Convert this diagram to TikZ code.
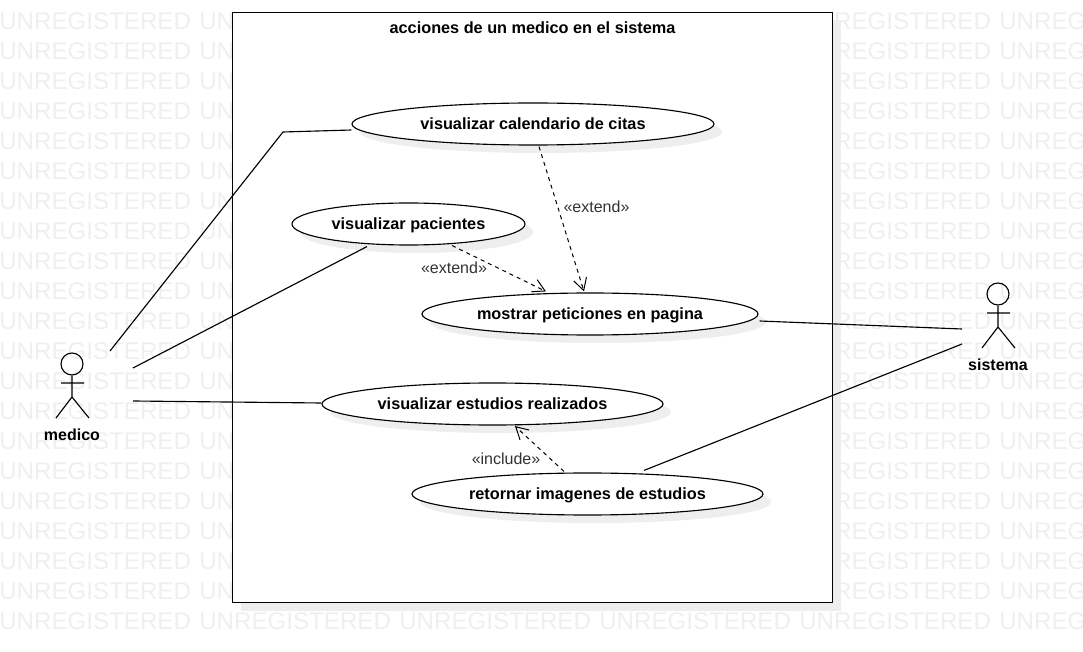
\documentclass[tikz,border=0pt]{standalone}
\usepackage{fontspec}
\setmainfont{Liberation Sans}
\usetikzlibrary{shapes.geometric,shadows,arrows.meta,calc}
\definecolor{wm}{HTML}{EFEFEF}
\definecolor{shade}{HTML}{EEEEEE}
\definecolor{lbl}{HTML}{333333}
\tikzset{
  px/.style={x=0.75pt,y=-0.75pt},
  boxshadow/.style={general shadow={fill=shade,shadow xshift=6pt,shadow yshift=-6pt}},
  usecase/.style={ellipse,draw=black,fill=white,line width=0.85pt,inner sep=0pt,
    minimum height=31.5pt,font=\fontsize{12.2}{14}\selectfont\bfseries,text=black,
    text height=8pt,text depth=0pt,boxshadow},
  assoc/.style={draw=black,line width=0.85pt},
  dep/.style={draw=black,line width=0.75pt,dash pattern=on 3pt off 3pt,
    -{Straight Barb[length=9pt,width=10pt,line width=0.75pt]}},
  deplabel/.style={text=lbl,font=\fontsize{12}{14}\selectfont,inner sep=0pt},
  actorline/.style={draw=black,line width=0.85pt},
  actorname/.style={text=black,font=\fontsize{12}{14}\selectfont\bfseries,inner sep=0pt},
  watermark/.style={text=wm,font=\fontsize{18.1}{20}\selectfont,anchor=west,inner sep=0pt},
  headc/.style={circle,draw=black,line width=0.85pt,fill=none,minimum size=16.5pt,inner sep=0pt}
}
\begin{document}
\begin{tikzpicture}[px]
\useasboundingbox (0,0) rectangle (1083,652);
\begin{scope}
  \clip (0,0) rectangle (1083,652);
  \foreach \r in {0,...,20}{
    \foreach \c in {0,...,5}{
      \node[watermark] (wm-\r-\c) at ({\c*200-1},{21.5+\r*30}) {UNREGISTERED};
    }
  }
\end{scope}
% system boundary
\node[draw=black,fill=white,line width=0.75pt,minimum width=450pt,minimum height=442.5pt,
  inner sep=0pt,outer sep=0pt,boxshadow] (sys) at (532.5,307.5) {};
\node[text=black,font=\fontsize{12.2}{14}\selectfont\bfseries,inner sep=0pt] (title) at (532.5,27.5) {acciones de un medico en el sistema};
% use cases
\node[usecase,minimum width=271.5pt] (cal) at (533,124) {visualizar calendario de citas};
\node[usecase,minimum width=174.75pt] (pac) at (408.5,224) {visualizar pacientes};
\node[usecase,minimum width=252pt] (pet) at (590,314) {mostrar peticiones en pagina};
\node[usecase,minimum width=255.75pt] (est) at (492.5,404) {visualizar estudios realizados};
\node[usecase,minimum width=263.25pt] (ret) at (587.5,494) {retornar imagenes de estudios};
% actors
\node[headc] (medhead) at (72,364) {};
\coordinate (medhip) at (72,397);
\coordinate (medarmL) at (61,383);
\coordinate (medarmR) at (84,383);
\coordinate (medlegL) at (56,418);
\coordinate (medlegR) at (89,418);
\draw[actorline] (medhead.south) -- (medhip) (medarmL) -- (medarmR) (medlegL) -- (medhip) -- (medlegR);
\node[actorname] (medico) at (72,435) {medico};
\node[headc] (sishead) at (998,294) {};
\coordinate (siship) at (998,327);
\coordinate (sisarmL) at (987,313);
\coordinate (sisarmR) at (1010,313);
\coordinate (sislegL) at (982,348);
\coordinate (sislegR) at (1015,348);
\draw[actorline] (sishead.south) -- (siship) (sisarmL) -- (sisarmR) (sislegL) -- (siship) -- (sislegR);
\node[actorname] (sistema) at (998,365) {sistema};
% free ends
\coordinate (m1) at (110,351);
\coordinate (bend) at (283,132);
\coordinate (m2) at (133,368);
\coordinate (m3) at (133,401);
\coordinate (s1) at (962,329);
\coordinate (s2) at (962,344);
% associations
\draw[assoc] (m1) -- (bend) -- ($(cal.west)+(0,6)$);
\draw[assoc] (m2) -- ($(pac.south)+(-41.5,1)$);
\draw[assoc] (m3) -- ($(est.west)+(0,-1)$);
\draw[assoc] ($(pet.east)+(1,7)$) -- (s1);
\draw[assoc] (s2) -- ($(ret.north)+(56.5,-2)$);
% dependencies
\draw[dep] ($(cal.south)+(6,1)$) -- ($(pet.north)+(-6,-1)$);
\draw[dep] ($(pac.south)+(43.5,0)$) -- ($(pet.north)+(-44,-1)$);
\draw[dep] ($(ret.north)+(-23.5,-1)$) -- ($(est.south)+(22.5,0.5)$);
\node[deplabel] (l1) at (596.5,207) {«extend»};
\node[deplabel] (l2) at (454,268) {«extend»};
\node[deplabel] (l3) at (506,458.5) {«include»};
\end{tikzpicture}
\end{document}
